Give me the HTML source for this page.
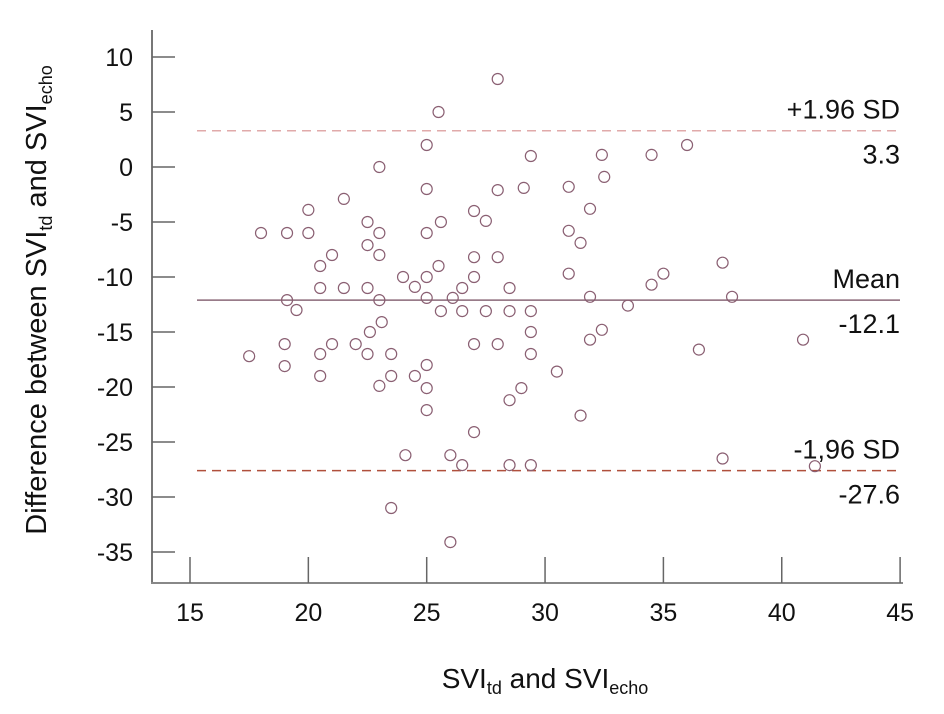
<!DOCTYPE html>
<html><head><meta charset="utf-8"><style>
html,body{margin:0;padding:0;background:#fff;}
svg{display:block;font-family:"Liberation Sans",sans-serif;}
</style></head><body>
<svg id="chart" width="944" height="714" viewBox="0 0 944 714">
<g id="axes"></g>
<g id="lines"></g>
<g id="points"></g>
<text x="46" y="300" transform="rotate(-90 46 300)" text-anchor="middle" font-size="29" fill="#111">Difference between SVI<tspan font-size="18" dy="6">td</tspan><tspan dy="-6"> and SVI</tspan><tspan font-size="18" dy="6">echo</tspan></text>
<text x="545" y="688" text-anchor="middle" font-size="28" fill="#111">SVI<tspan font-size="18" dy="6">td</tspan><tspan dy="-6"> and SVI</tspan><tspan font-size="18" dy="6">echo</tspan></text>
</svg>
<script>
const xTicks = [15,20,25,30,35,40,45];
const yTicks = [10,5,0,-5,-10,-15,-20,-25,-30,-35];
const refValues = [3.3,-12.1,-27.6];
const refNames = ["+1.96 SD","Mean","-1,96 SD"];
const refLabels = ["3.3","-12.1","-27.6"];
const xs = [28,25.5,25,29.4,23,25,28,29.1,21.5,20,22.5,27,27.5,25.6,18,19.1,20,23,25,22.5,21,23,27,28,20.5,25.5,24,25,27,20.5,21.5,22.5,24.5,26.5,28.5,19.1,23,25,26.1,19.5,25.6,26.5,27.5,28.5,29.4,23.1,22.6,17.5,19,19,20.5,21,20.5,22,22.5,23.5,23,23.5,24.5,25,25,25,27,28,29.4,29.4,29,28.5,27,24.1,26,26.5,28.5,29.4,23.5,26,36,32.4,34.5,32.5,31,31.9,31,31.5,37.5,31,35,34.5,31.9,37.9,33.5,32.4,31.9,36.5,40.9,30.5,31.5,37.5,41.4];
const ys = [8,5,2,1,0,-2,-2.1,-1.9,-2.9,-3.9,-5,-4,-4.9,-5,-6,-6,-6,-6,-6,-7.1,-8,-8,-8.2,-8.2,-9,-9,-10,-10,-10,-11,-11,-11,-10.9,-11,-11,-12.1,-12.1,-11.9,-11.9,-13,-13.1,-13.1,-13.1,-13.1,-13.1,-14.1,-15,-17.2,-16.1,-18.1,-17,-16.1,-19,-16.1,-17,-17,-19.9,-19,-19,-18,-20.1,-22.1,-16.1,-16.1,-15,-17,-20.1,-21.2,-24.1,-26.2,-26.2,-27.1,-27.1,-27.1,-31,-34.1,2,1.1,1.1,-0.9,-1.8,-3.8,-5.8,-6.9,-8.7,-9.7,-9.7,-10.7,-11.8,-11.8,-12.6,-14.8,-15.7,-16.6,-15.7,-18.6,-22.6,-26.5,-27.2];
const NS="http://www.w3.org/2000/svg";
const sx = v => 190 + (v-15)*23.67;
const sy = v => 167 - v*11;
function mk(tag, attrs, parent){const e=document.createElementNS(NS,tag);for(const k in attrs)e.setAttribute(k,attrs[k]);parent.appendChild(e);return e;}
const axes=document.getElementById('axes');
let a=mk('line',{x1:152,y1:30,x2:152,y2:583,stroke:'#777','stroke-width':2},axes);


a=mk('line',{x1:151,y1:583,x2:903,y2:583,stroke:'#888','stroke-width':2},axes);


yTicks.forEach(v=>{
  const t=mk('line',{x1:152,y1:sy(v),x2:175,y2:sy(v),stroke:'#666','stroke-width':1.5},axes);
  
  
  const l=mk('text',{x:133,y:sy(v)+9,'text-anchor':'end','font-size':25,fill:'#111'},axes);
  l.textContent=String(v);
  
  
});
xTicks.forEach(v=>{
  const t=mk('line',{x1:sx(v),y1:557,x2:sx(v),y2:583,stroke:'#666','stroke-width':1.5},axes);
  
  
  const l=mk('text',{x:sx(v),y:621,'text-anchor':'middle','font-size':25,fill:'#111'},axes);
  l.textContent=String(v);
  
  
});
const lines=document.getElementById('lines');
const styles=[{s:'#e0aaaa',d:'9 6'},{s:'#8a6878',d:''},{s:'#b0503c',d:'9 6'}];
refValues.forEach((v,i)=>{
  const y=sy(v);
  const ln=mk('line',{x1:197,y1:y,x2:900,y2:y,stroke:styles[i].s,'stroke-width':1.5,'stroke-dasharray':styles[i].d},lines);
  
  
  const n=mk('text',{x:900,y:y-12,'text-anchor':'end','font-size':27,fill:'#111'},lines);
  n.textContent=refNames[i];
  
  
  const lv=mk('text',{x:900,y:y+33,'text-anchor':'end','font-size':27,fill:'#111'},lines);
  lv.textContent=refLabels[i];
  
  
});
const pts=document.getElementById('points');
xs.forEach((x,i)=>{
  const c=mk('circle',{cx:sx(x),cy:sy(ys[i]),r:5.5,fill:'none',stroke:'#8a5f72','stroke-width':1.2},pts);
  
  
});
</script>
</body></html>
